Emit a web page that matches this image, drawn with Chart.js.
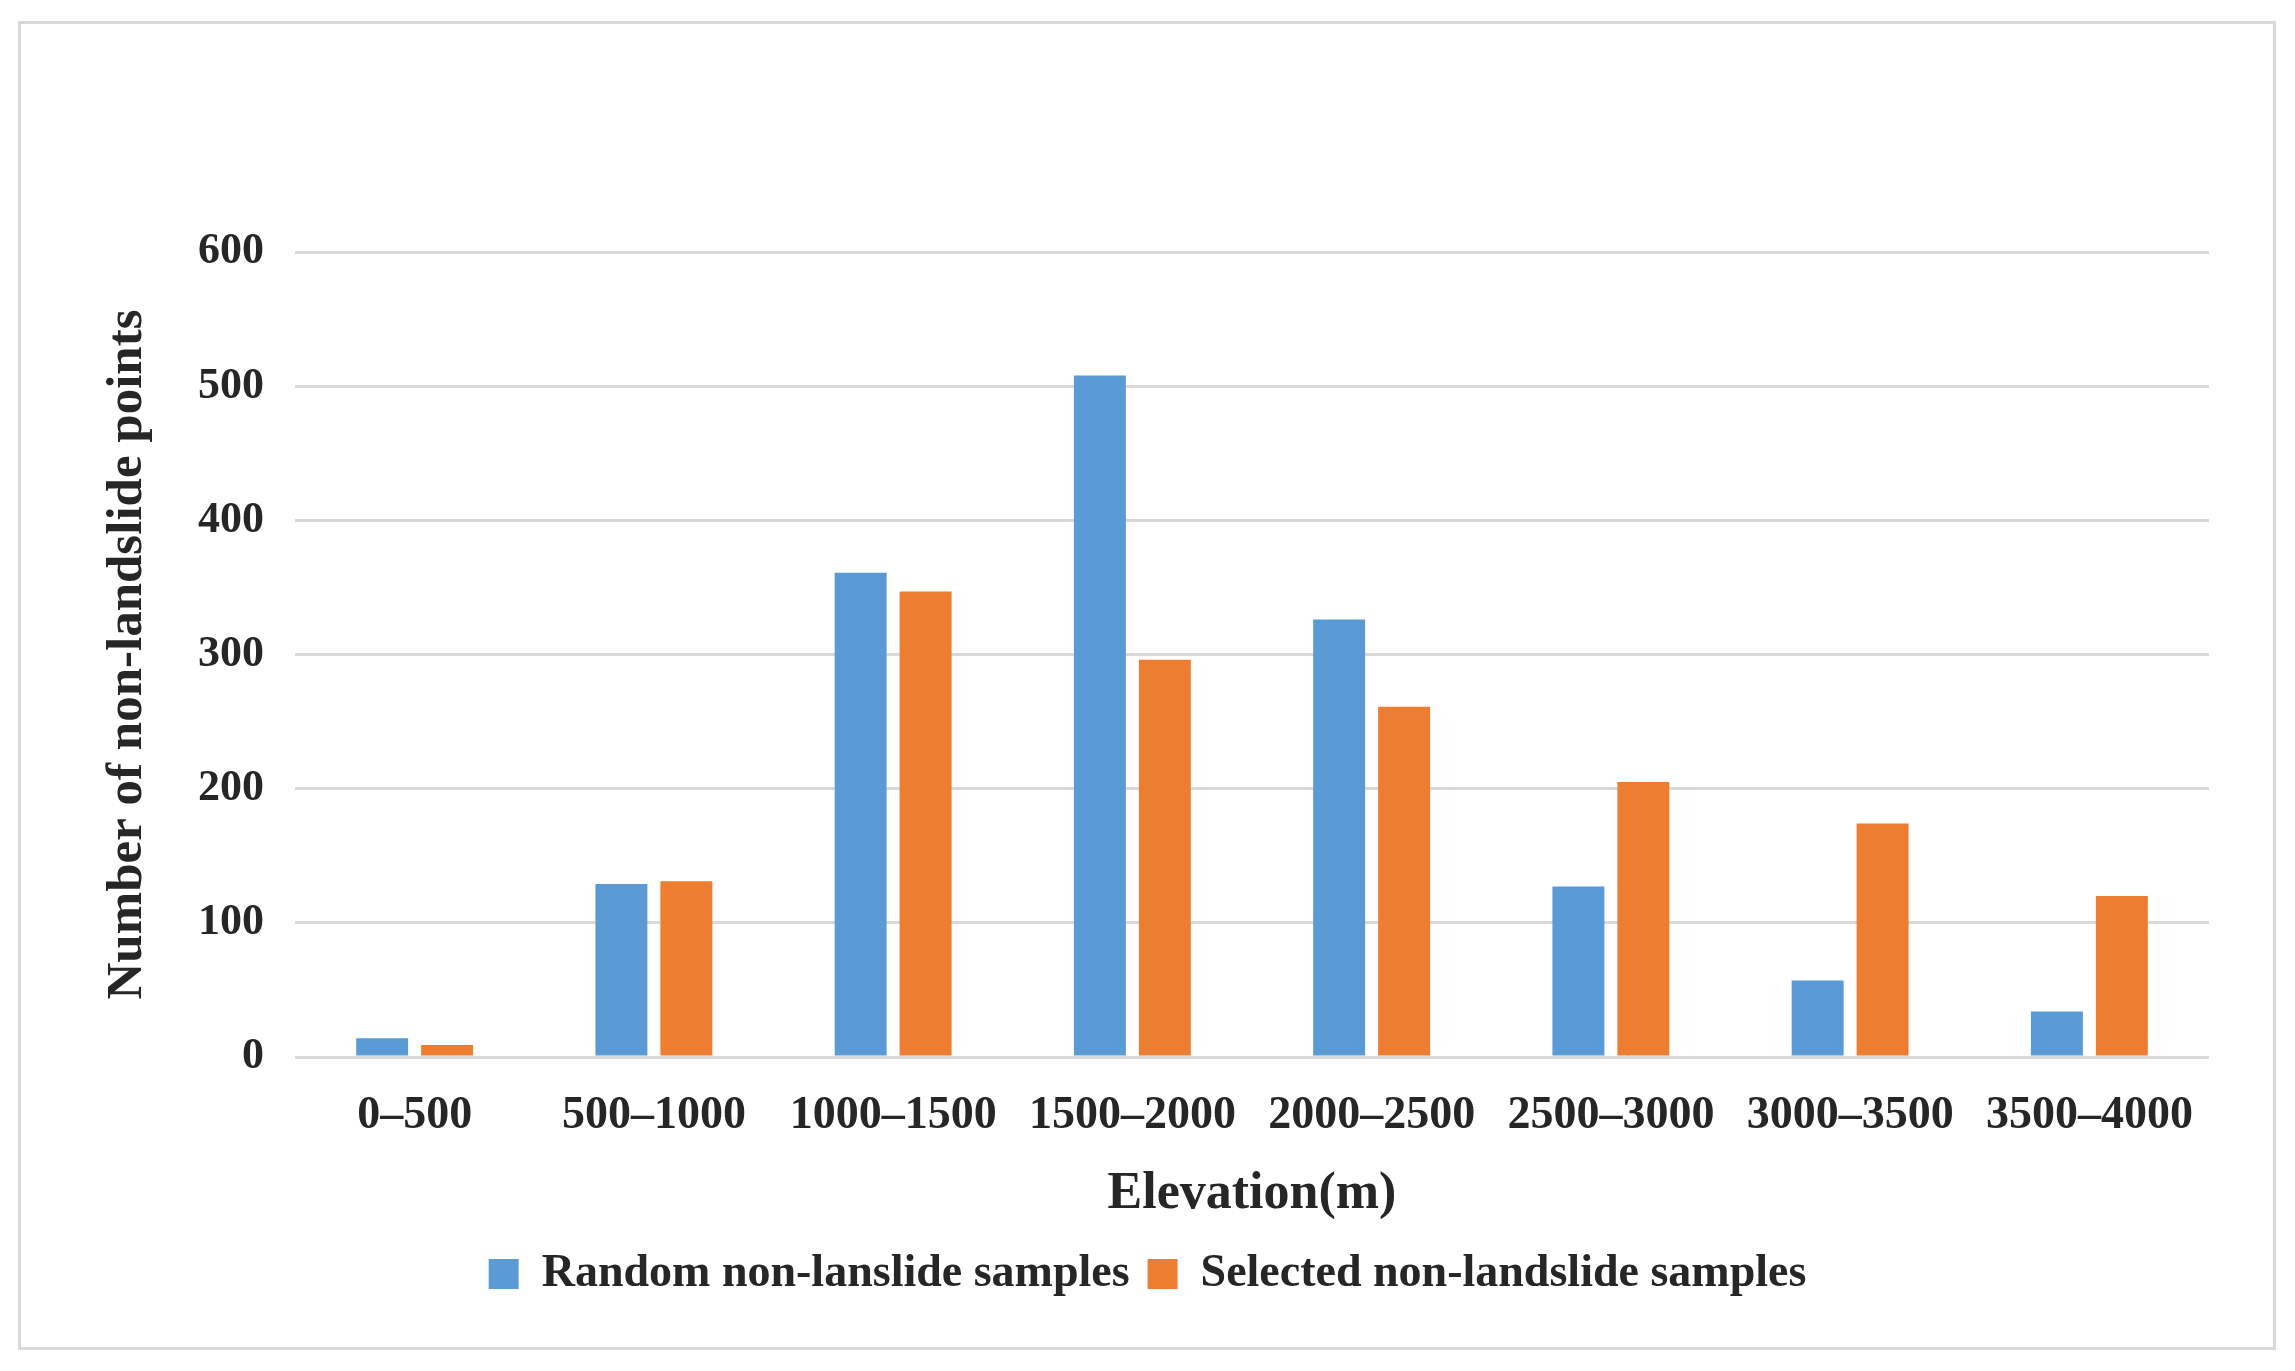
<!DOCTYPE html>
<html>
<head>
<meta charset="utf-8">
<title>Non-landslide points by elevation</title>
<script src="https://cdn.jsdelivr.net/npm/chart.js@4.4.1/dist/chart.umd.min.js"></script>
<style>
  html, body { margin: 0; padding: 0; background: #fff; }
  #frame {
    position: absolute; left: 18px; top: 21px; width: 2258px; height: 1329px;
    box-sizing: border-box; border: 3px solid #d9d9d9; pointer-events: none;
  }
  #wrap { position: absolute; left: 0; top: 0; width: 2295px; height: 1371px; }
</style>
</head>
<body>
<div id="wrap"><canvas id="elevChart"></canvas></div>
<div id="frame"></div>
<script>
const categories = ["0–500", "500–1000", "1000–1500", "1500–2000", "2000–2500", "2500–3000", "3000–3500", "3500–4000"];
const randomSamples = [14, 129, 361, 508, 326, 127, 57, 34];
const selectedSamples = [9, 131, 347, 296, 261, 205, 174, 120];
const yTicks = [0, 100, 200, 300, 400, 500, 600];

document.addEventListener("DOMContentLoaded", () => {
  const serif = "'Liberation Serif', 'Times New Roman', serif";
  const ink = "#262626";
  const gridGrey = "#d9d9d9";

  new Chart(document.getElementById("elevChart"), {
    type: "bar",
    data: {
      labels: categories,
      datasets: [
        {
          label: "Random non-lanslide samples",
          data: randomSamples,
          backgroundColor: "#5b9bd5"
        },
        {
          label: "Selected non-landslide samples",
          data: selectedSamples,
          backgroundColor: "#ed7d31"
        }
      ]
    },
    options: {
      responsive: true,
      maintainAspectRatio: false,
      animation: false,
      categoryPercentage: 0.543,
      barPercentage: 0.8,
      layout: { padding: { top: 252, right: 86, bottom: 64, left: 86 } },
      plugins: {
        tooltip: { enabled: false },
        legend: {
          position: "bottom",
          labels: {
            boxWidth: 30,
            boxHeight: 30,
            padding: 18,
            color: ink,
            font: { family: serif, size: 46, weight: "bold" }
          }
        }
      },
      scales: {
        x: {
          afterFit: scale => { scale.height = 176; },
          grid: { display: false, drawTicks: false },
          border: { display: false },
          ticks: {
            color: ink,
            padding: 32,
            maxRotation: 0,
            autoSkip: false,
            font: { family: serif, size: 46, weight: "bold" }
          },
          title: {
            display: true,
            text: "Elevation(m)",
            color: ink,
            padding: { top: 0, bottom: 7 },
            font: { family: serif, size: 52, weight: "bold" }
          }
        },
        y: {
          min: yTicks[0],
          max: yTicks[yTicks.length - 1],
          afterFit: scale => { scale.width = 209; },
          afterBuildTicks: scale => { scale.ticks = yTicks.map(v => ({ value: v })); },
          grid: { color: gridGrey, lineWidth: 3, drawTicks: false },
          border: { display: false },
          ticks: {
            color: ink,
            padding: 31,
            font: { family: serif, size: 44, weight: "bold" }
          },
          title: {
            display: true,
            text: "Number of non-landslide points",
            color: ink,
            padding: { top: 11, bottom: 0 },
            font: { family: serif, size: 51, weight: "bold" }
          }
        }
      }
    }
  });
});
</script>
</body>
</html>
